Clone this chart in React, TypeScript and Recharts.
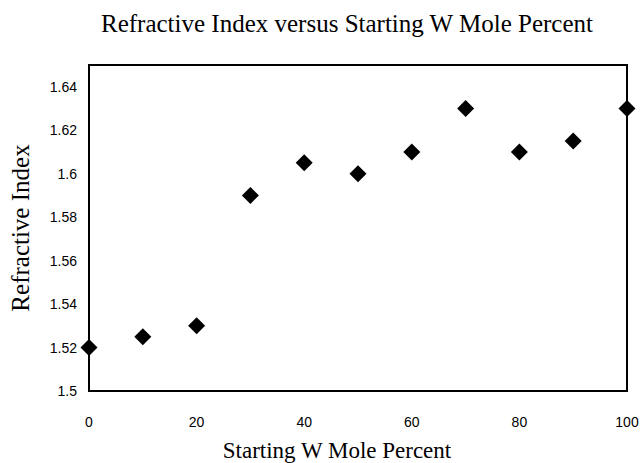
import React from 'react';
import { ScatterChart, Scatter, XAxis, YAxis, ZAxis, ReferenceArea, Label } from 'recharts';

const molePercent = [0, 10, 20, 30, 40, 50, 60, 70, 80, 90, 100];
const refractiveIndex = [1.52, 1.525, 1.53, 1.59, 1.605, 1.6, 1.61, 1.63, 1.61, 1.615, 1.63];
const xTicks = [0, 20, 40, 60, 80, 100];
const yTicks = [1.5, 1.52, 1.54, 1.56, 1.58, 1.6, 1.62, 1.64];

const data = molePercent.map((x, i) => ({ x, y: refractiveIndex[i] }));

const serif = '"Liberation Serif", "Times New Roman", serif';
const sans = '"Liberation Sans", Arial, sans-serif';

// square diamond marker centred on the scaled point
const Diamond = (props: any) => {
  const { cx, cy } = props;
  const r = 8.5;
  return (
    <polygon
      points={`${cx},${cy - r} ${cx + r},${cy} ${cx},${cy + r} ${cx - r},${cy}`}
      fill="#000"
    />
  );
};

const App = () => {
  return (
    <div style={{ position: 'relative', width: 644, height: 463, background: '#fff' }}>
      <style>{'body{margin:0}'}</style>
      <div
        style={{
          position: 'absolute',
          top: 10,
          left: 0,
          width: 644,
          paddingLeft: 50,
          boxSizing: 'border-box',
          textAlign: 'center',
          fontFamily: serif,
          fontSize: 25,
          color: '#000',
          whiteSpace: 'nowrap',
        }}
      >
        Refractive Index versus Starting W Mole Percent
      </div>
      <ScatterChart width={644} height={463} margin={{ top: 65, right: 17, bottom: 0, left: 0 }}>
        <XAxis
          type="number"
          dataKey="x"
          domain={[0, 100]}
          ticks={xTicks}
          tickLine={false}
          axisLine={{ stroke: '#000', strokeWidth: 2 }}
          tickMargin={20}
          height={72}
          tick={{ fill: '#000', fontSize: 14, fontFamily: sans }}
        >
          <Label
            value="Starting W Mole Percent"
            position="insideBottom"
            offset={5}
            dx={-21}
            style={{ fill: '#000', fontSize: 23, fontFamily: serif }}
          />
        </XAxis>
        <YAxis
          type="number"
          dataKey="y"
          domain={[1.5, 1.65]}
          ticks={yTicks}
          tickLine={false}
          axisLine={{ stroke: '#000', strokeWidth: 2 }}
          tickMargin={6}
          width={89}
          tickFormatter={(v: number) => String(Number(v.toFixed(2)))}
          tick={{ fill: '#000', fontSize: 14, fontFamily: sans }}
        >
          <Label
            value="Refractive Index"
            angle={-90}
            position="insideLeft"
            offset={20}
            style={{ fill: '#000', fontSize: 25, fontFamily: serif, textAnchor: 'middle' }}
          />
        </YAxis>
        <ZAxis range={[150, 150]} />
        <ReferenceArea x1={0} x2={100} y1={1.5} y2={1.65} fill="none" stroke="#000" strokeWidth={2} ifOverflow="visible" />
        <Scatter data={data} fill="#000" shape={Diamond} isAnimationActive={false} />
      </ScatterChart>
    </div>
  );
};

export default App;
